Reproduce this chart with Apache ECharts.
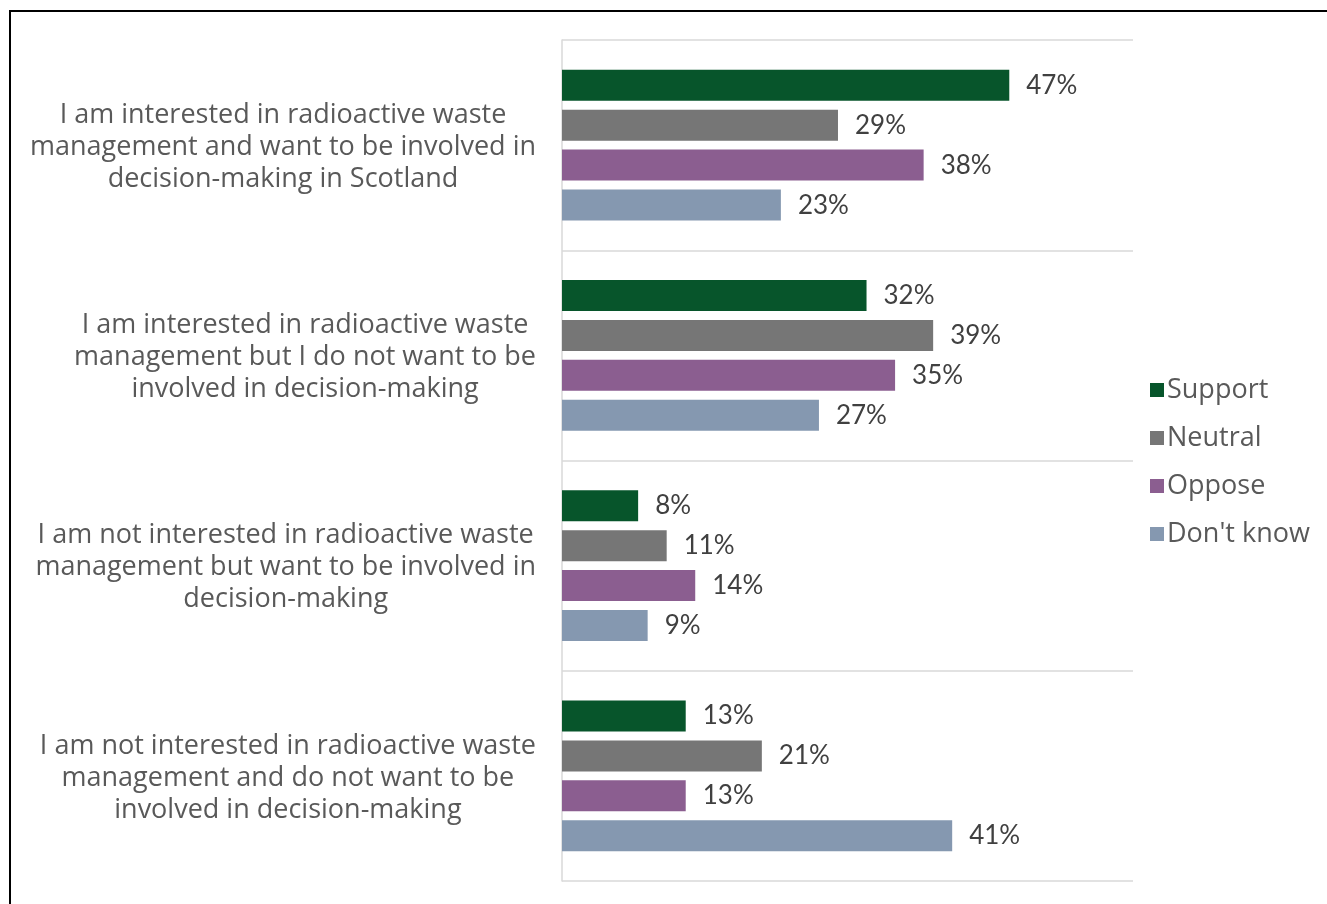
<!DOCTYPE html>
<html>
<head>
<meta charset="utf-8">
<style>
  html, body { margin: 0; padding: 0; background: #ffffff; }
  #chart { width: 1327px; height: 904px; }
</style>
<script src="https://cdn.jsdelivr.net/npm/echarts@6/dist/echarts.min.js"></script>
</head>
<body>
<div id="chart"></div>
<script>
// Attitude groups (line breaks as shown on the axis)
const categories = [
  'I am interested in radioactive waste\nmanagement and want to be involved in\ndecision-making in Scotland',
  'I am interested in radioactive waste\nmanagement but I do not want to be\ninvolved in decision-making',
  'I am not interested in radioactive waste\nmanagement but want to be involved in\ndecision-making',
  'I am not interested in radioactive waste\nmanagement and do not want to be\ninvolved in decision-making'
];

const seriesNames = ['Support', 'Neutral', 'Oppose', "Don't know"];

// Percent of respondents in each group
const support   = [47, 32, 8, 13];
const neutral   = [29, 39, 11, 21];
const oppose    = [38, 35, 14, 13];
const dontKnow  = [23, 27, 9, 41];

const seriesValues = [support, neutral, oppose, dontKnow];
const seriesColors = ['#07552B', '#767676', '#8B5E90', '#8598B0'];

const TEXT_FONT = '"Open Sans", Lato, sans-serif';
const NUM_FONT = 'Lato, "Open Sans", sans-serif';

const chart = echarts.init(document.getElementById('chart'), null, { renderer: 'canvas' });

const series = seriesNames.map((name, i) => ({
  name: name,
  type: 'bar',
  data: seriesValues[i],
  barWidth: 31,
  barGap: '29%',
  itemStyle: { color: seriesColors[i] },
  label: {
    show: true,
    position: 'right',
    distance: 17,
    formatter: '{c}%',
    fontFamily: NUM_FONT,
    fontSize: 26,
    color: '#404040'
  },
  emphasis: { disabled: true }
}));

chart.setOption({
  animation: false,
  backgroundColor: '#ffffff',
  graphic: [{
    type: 'rect',
    shape: { x: 10, y: 11, width: 1340, height: 920 },
    style: { fill: 'none', stroke: '#000000', lineWidth: 2 },
    silent: true
  }],
  grid: { left: 562, right: 194, top: 40, bottom: 23, containLabel: false },
  legend: {
    orient: 'vertical',
    left: 1145,
    top: 368,
    itemWidth: 14,
    itemHeight: 14,
    itemGap: 14,
    icon: 'rect',
    data: seriesNames,
    textStyle: {
      fontFamily: TEXT_FONT,
      fontSize: 27,
      lineHeight: 34,
      color: '#595959',
      padding: [0, 0, 0, -2]
    }
  },
  xAxis: {
    type: 'value',
    min: 0,
    max: 60,
    axisLine: { show: false },
    axisTick: { show: false },
    axisLabel: { show: false },
    splitLine: { show: false }
  },
  yAxis: {
    type: 'category',
    inverse: true,
    data: categories,
    axisLine: { show: true, lineStyle: { color: '#d9d9d9', width: 1.5 } },
    axisTick: { show: false },
    splitLine: { show: true, lineStyle: { color: '#d9d9d9', width: 1.5 } },
    axisLabel: {
      margin: 26,
      align: 'right',
      padding: [4, 0, 0, 0],
      formatter: function (v) {
        return v.split('\n').map(l => '{c|' + l + '}').join('\n');
      },
      rich: {
        c: {
          align: 'center',
          fontFamily: TEXT_FONT,
          fontSize: 27,
          lineHeight: 32,
          color: '#595959'
        }
      }
    }
  },
  series: series
});
</script>
</body>
</html>
